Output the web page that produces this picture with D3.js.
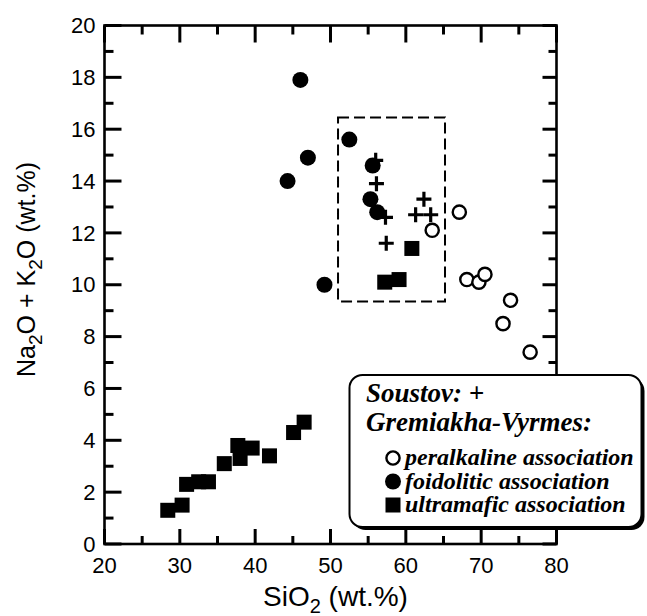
<!DOCTYPE html>
<html lang="en">
<head>
	<meta charset="utf-8" />
	<title>TAS diagram</title>
	<style>
		body { margin: 0; padding: 0; background: #fff; }
		.lbl text { font: 400 22px 'Liberation Sans', Arial, sans-serif; fill: #000; }
		.legend text { font: italic 700 27px 'Liberation Serif', 'Times New Roman', serif; fill: #000; }
	</style>
	<script src="https://d3js.org/d3.v7.min.js"></script>
</head>
<body>
	<div id="chart"></div>
	<script>
	// axis ranges and ticks
	const siO2Range = [20, 80];
	const alkaliRange = [0, 20];
	const siO2Major = [20, 30, 40, 50, 60, 70, 80];
	const siO2Minor = [25, 35, 45, 55, 65, 75];
	const alkaliMajor = [0, 2, 4, 6, 8, 10, 12, 14, 16, 18, 20];
	const alkaliMinor = [1, 3, 5, 7, 9, 11, 13, 15, 17, 19];

	// Soustov (+)
	const soustovSiO2 = [56.0, 56.1, 57.3, 57.4, 62.4, 61.3, 63.3];
	const soustovAlk = [14.8, 13.9, 12.6, 11.6, 13.3, 12.7, 12.7];
	// Gremiakha-Vyrmes
	const peralkSiO2 = [63.5, 67.1, 68.1, 69.7, 70.5, 73.9, 72.9, 76.5];
	const peralkAlk = [12.1, 12.8, 10.2, 10.1, 10.4, 9.4, 8.5, 7.4];
	const foidSiO2 = [46.0, 52.5, 47.0, 44.3, 55.6, 55.3, 56.2, 49.2];
	const foidAlk = [17.9, 15.6, 14.9, 14.0, 14.6, 13.3, 12.8, 10.0];
	const ultraSiO2 = [28.4, 30.3, 30.9, 32.5, 33.8, 35.9, 37.7, 38.0, 39.6, 41.9, 45.1, 46.5, 57.2, 59.1, 60.8];
	const ultraAlk = [1.3, 1.5, 2.3, 2.4, 2.4, 3.1, 3.8, 3.3, 3.7, 3.4, 4.3, 4.7, 10.1, 10.2, 11.4];

	// dashed field
	const fieldSiO2 = [51, 65.2];
	const fieldAlk = [9.35, 16.45];

	const legendHeader = ["Soustov: +", "Gremiakha-Vyrmes:"];
	const legendLabels = ["peralkaline association", "foidolitic association", "ultramafic association"];
	const legendSymbols = ["open", "filled", "square"];

	const W = 647, H = 616;
	const m = { left: 104.5, right: 556.5, top: 25.5, bottom: 544 };

	const x = d3.scaleLinear().domain(siO2Range).range([m.left, m.right]);
	const y = d3.scaleLinear().domain(alkaliRange).range([m.bottom, m.top]);

	const svg = d3.select("#chart").append("svg")
		.attr("width", W).attr("height", H);

	// tick labels
	svg.append("g").attr("class", "lbl").selectAll("text")
		.data(siO2Major).join("text")
		.attr("x", d => x(d)).attr("y", 573)
		.attr("text-anchor", "middle")
		.text(d => d);
	svg.append("g").attr("class", "lbl").selectAll("text")
		.data(alkaliMajor).join("text")
		.attr("x", m.left - 9).attr("y", d => y(d)).attr("dy", "0.35em")
		.attr("text-anchor", "end")
		.text(d => d);

	// axis titles
	const xt = svg.append("text")
		.attr("x", 263).attr("y", 606)
		.style("font", "400 28px 'Liberation Sans', Arial, sans-serif");
	xt.append("tspan").text("SiO");
	xt.append("tspan").attr("dy", 7).style("font-size", "20px").text("2");
	xt.append("tspan").attr("dy", -7).text(" (wt.%)");

	const yt = svg.append("text")
		.attr("transform", "translate(35,377) rotate(-90)")
		.style("font", "400 25px 'Liberation Sans', Arial, sans-serif");
	yt.append("tspan").text("Na");
	yt.append("tspan").attr("dy", 7).style("font-size", "19px").text("2");
	yt.append("tspan").attr("dy", -7).text("O + K");
	yt.append("tspan").attr("dy", 7).style("font-size", "19px").text("2");
	yt.append("tspan").attr("dy", -7).text("O (wt.%)");

	// dashed field
	svg.append("rect")
		.attr("x", x(fieldSiO2[0])).attr("y", y(fieldAlk[1]))
		.attr("width", x(fieldSiO2[1]) - x(fieldSiO2[0]))
		.attr("height", y(fieldAlk[0]) - y(fieldAlk[1]))
		.attr("fill", "none").attr("stroke", "#000")
		.attr("stroke-width", 2).attr("stroke-dasharray", "11,5");

	// markers
	function drawMarker(sel, kind) {
		if (kind === "open") {
			sel.append("circle").attr("r", 6.6).attr("fill", "#fff")
				.attr("stroke", "#000").attr("stroke-width", 2.4);
		} else if (kind === "filled") {
			sel.append("circle").attr("r", 8).attr("fill", "#000");
		} else if (kind === "square") {
			sel.append("rect").attr("x", -7.5).attr("y", -7.5)
				.attr("width", 15).attr("height", 15).attr("fill", "#000");
		} else {
			sel.append("path").attr("d", "M-7.5,0H7.5M0,-7.5V7.5")
				.attr("stroke", "#000").attr("stroke-width", 3.2);
		}
	}

	function plot(xs, ys, kind) {
		svg.append("g").selectAll("g")
			.data(xs.map((v, i) => [v, ys[i]]))
			.join("g")
			.attr("transform", d => `translate(${x(d[0])},${y(d[1])})`)
			.each(function() { drawMarker(d3.select(this), kind); });
	}

	plot(ultraSiO2, ultraAlk, "square");
	plot(peralkSiO2, peralkAlk, "open");
	plot(foidSiO2, foidAlk, "filled");
	plot(soustovSiO2, soustovAlk, "plus");

	// inward ticks on all four sides
	const tg = svg.append("g").attr("stroke", "#000").attr("stroke-width", 3);
	function xTicks(vals, y0, len) {
		tg.append("g").selectAll("line").data(vals).join("line")
			.attr("x1", d => x(d)).attr("x2", d => x(d))
			.attr("y1", y0).attr("y2", y0 + len);
	}
	function yTicks(vals, x0, len) {
		tg.append("g").selectAll("line").data(vals).join("line")
			.attr("y1", d => y(d)).attr("y2", d => y(d))
			.attr("x1", x0).attr("x2", x0 + len);
	}
	xTicks(siO2Major, m.bottom, -15);
	xTicks(siO2Minor, m.bottom, -8);
	xTicks(siO2Major, m.top, 17);
	xTicks(siO2Minor, m.top, 9);
	yTicks(alkaliMajor, m.left, 17);
	yTicks(alkaliMinor, m.left, 9);
	yTicks(alkaliMajor, m.right, -14);
	yTicks(alkaliMinor, m.right, -8);

	svg.append("rect")
		.attr("x", m.left).attr("y", m.top)
		.attr("width", m.right - m.left).attr("height", m.bottom - m.top)
		.attr("fill", "none").attr("stroke", "#000").attr("stroke-width", 2.6);

	// legend box with drop shadow, drawn over the right axis
	const lg = svg.append("g").attr("class", "legend");
	lg.append("rect")
		.attr("x", 352.5).attr("y", 378).attr("width", 292).attr("height", 152)
		.attr("rx", 13).attr("fill", "#000");
	lg.append("rect")
		.attr("x", 349.5).attr("y", 375).attr("width", 292).attr("height", 152)
		.attr("rx", 13).attr("fill", "#fff").attr("stroke", "#000").attr("stroke-width", 2);

	lg.selectAll("text.head")
		.data(legendHeader)
		.join("text").attr("class", "head")
		.attr("x", 366).attr("y", (d, i) => 402 + i * 29)
		.text(d => d);

	const items = lg.selectAll("g.item")
		.data(legendLabels)
		.join("g").attr("class", "item")
		.attr("transform", (d, i) => `translate(393,${458 + i * 23.5})`);
	items.each(function(d, i) { drawMarker(d3.select(this), legendSymbols[i]); });
	items.append("text")
		.attr("x", 12).attr("y", 7)
		.style("font-size", "24px")
		.text(d => d);
	</script>
</body>
</html>
